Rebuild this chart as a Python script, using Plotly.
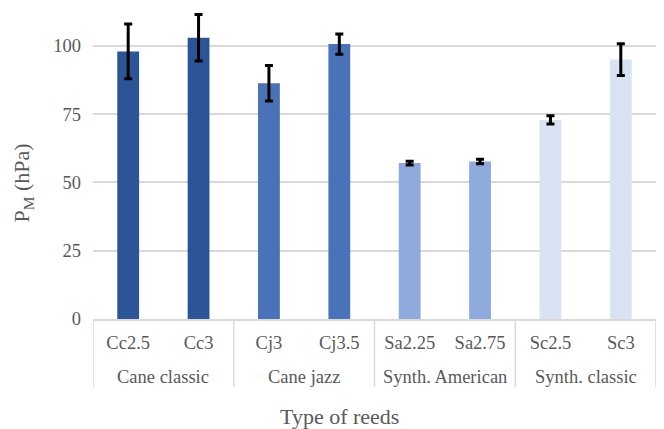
import plotly.graph_objects as go

groups = ["Cane classic", "Cane classic", "Cane jazz", "Cane jazz",
          "Synth. American", "Synth. American", "Synth. classic", "Synth. classic"]
labels = ["Cc2.5", "Cc3", "Cj3", "Cj3.5", "Sa2.25", "Sa2.75", "Sc2.5", "Sc3"]
values = [98.0, 103.0, 86.3, 100.7, 57.1, 57.7, 72.9, 95.0]
errors = [10.0, 8.5, 6.5, 3.7, 0.7, 0.8, 1.5, 5.8]
colors = ["#2B5597", "#2B5597", "#4A72B8", "#4A72B8",
          "#8FAADC", "#8FAADC", "#DAE3F3", "#DAE3F3"]

font_family = "Liberation Serif, Times New Roman, serif"
gray = "#595959"
line_gray = "#D9D9D9"

fig = go.Figure(go.Bar(
    x=labels,
    y=values,
    marker=dict(color=colors, line=dict(width=0)),
    error_y=dict(type="data", array=errors, color="black", thickness=3, width=4),
    cliponaxis=False,
))

# group spans derived from the groups list
spans = []
start = 0
for i in range(1, len(groups) + 1):
    if i == len(groups) or groups[i] != groups[start]:
        spans.append((groups[start], start, i - 1))
        start = i

shapes = []
annotations = []
boundaries = sorted({s - 0.5 for _, s, _ in spans} | {e + 0.5 for _, _, e in spans})
for b in boundaries:
    shapes.append(dict(type="line", xref="x", yref="paper", x0=b, x1=b, y0=0, y1=-0.2186,
                       line=dict(color=line_gray, width=1.5)))
for name, s, e in spans:
    annotations.append(dict(text=name, xref="x", yref="paper", x=(s + e) / 2, y=-0.1865,
                            xanchor="center", yanchor="middle", showarrow=False,
                            font=dict(size=18.5, color=gray, family=font_family)))

annotations.append(dict(text="Type of reeds", xref="paper", yref="paper", x=0.4387, y=-0.312,
                        xanchor="center", yanchor="middle", showarrow=False,
                        font=dict(size=22, color=gray, family=font_family)))
annotations.append(dict(text="P<sub>M</sub> (hPa)", xref="paper", yref="y", x=-0.1226, y=50,
                        xanchor="center", yanchor="middle", textangle=-90, showarrow=False,
                        font=dict(size=22, color=gray, family=font_family)))

fig.update_layout(
    width=656, height=421,
    margin=dict(l=85, r=8, t=0, b=110),
    paper_bgcolor="white", plot_bgcolor="white",
    bargap=0.69,
    showlegend=False,
    font=dict(family=font_family, color=gray, size=18.5),
    shapes=shapes,
    annotations=annotations,
)
fig.update_yaxes(
    range=[0, 113.9],
    tickvals=[0, 25, 50, 75, 100],
    showgrid=True, gridcolor=line_gray, gridwidth=1.5,
    zeroline=False, showline=False,
    tickfont=dict(size=18.5, color=gray),
    ticks="", ticklen=0,
    ticklabelstandoff=11,
)
fig.update_xaxes(
    type="category",
    range=[-0.5, len(labels) - 0.5],
    showline=True, linecolor=line_gray, linewidth=1.5,
    tickfont=dict(size=18.5, color=gray),
    ticks="",
    ticklabelstandoff=6,
)

fig.write_html("out.html")
